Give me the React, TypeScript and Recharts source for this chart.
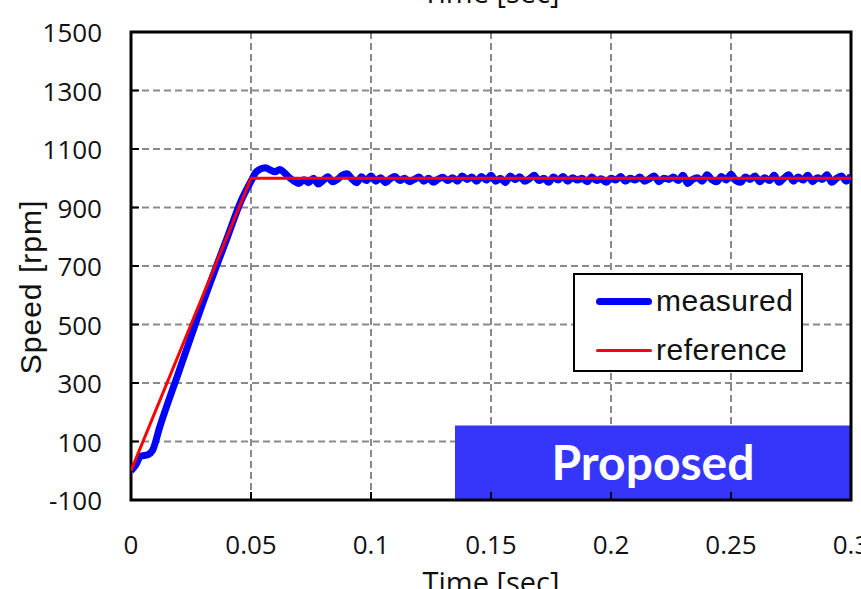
import React from 'react';
import {
  LineChart, Line, XAxis, YAxis, CartesianGrid, ReferenceArea, Label, Legend,
} from 'recharts';

// tick values and labels
const xTicks = [0, 0.05, 0.1, 0.15, 0.2, 0.25, 0.3];
const xTickLabels = ['0', '0.05', '0.1', '0.15', '0.2', '0.25', '0.3'];
const yTicks = [-100, 100, 300, 500, 700, 900, 1100, 1300, 1500];

// reference speed command [time, rpm]
const reference: [number, number][] = [
  [0, 0], [0.05, 1000], [0.3, 1000],
];

// measured speed [time, rpm]
const measured: [number, number][] = [
  [0, 0], [0.002, 20], [0.004, 50], [0.007, 55], [0.009, 70], [0.012, 150],
  [0.02, 340], [0.03, 575], [0.04, 795], [0.046, 925], [0.05, 990],
  [0.052, 1020], [0.054, 1032], [0.056, 1036], [0.058, 1028], [0.06, 1022],
  [0.062, 1030], [0.064, 1018], [0.066, 1002],
  [0.068, 990], [0.07, 982], [0.072, 995], [0.074, 985], [0.076, 1000], [0.078, 980],
  [0.08, 992], [0.082, 1005], [0.084, 988], [0.086, 996], [0.088, 1010], [0.09, 1015],
  [0.092, 998], [0.094, 985], [0.096, 1005], [0.098, 992], [0.1, 1008], [0.102, 990],
  [0.104, 1002], [0.106, 985], [0.108, 998], [0.11, 1006], [0.112, 992], [0.114, 1000],
  [0.116, 988], [0.118, 996], [0.12, 1004], [0.122, 990], [0.124, 1000], [0.126, 986],
  [0.128, 997], [0.13, 1003], [0.132, 992], [0.134, 1002], [0.136, 990], [0.138, 1008],
  [0.14, 996], [0.142, 1004], [0.144, 990], [0.146, 1006], [0.148, 994], [0.15, 1010],
  [0.152, 990], [0.154, 1000], [0.156, 985], [0.158, 1008], [0.16, 995], [0.162, 1005],
  [0.164, 990], [0.166, 998], [0.168, 1010], [0.17, 992], [0.172, 1000], [0.174, 986],
  [0.176, 1004], [0.178, 994], [0.18, 1006], [0.182, 990], [0.184, 1002], [0.186, 994],
  [0.188, 1000], [0.19, 988], [0.192, 1004], [0.194, 992], [0.196, 998], [0.198, 986],
  [0.2, 1000], [0.202, 994], [0.204, 1006], [0.206, 990], [0.208, 1000], [0.21, 994],
  [0.212, 1004], [0.214, 990], [0.216, 998], [0.218, 1008], [0.22, 988], [0.222, 1000],
  [0.224, 996], [0.226, 1004], [0.228, 992], [0.23, 1010], [0.232, 982], [0.234, 996],
  [0.236, 1002], [0.238, 990], [0.24, 1012], [0.242, 995], [0.244, 988], [0.246, 1006],
  [0.248, 994], [0.25, 1014], [0.252, 992], [0.254, 986], [0.256, 1004], [0.258, 996],
  [0.26, 1008], [0.262, 988], [0.264, 1002], [0.266, 992], [0.268, 1010], [0.27, 986],
  [0.272, 1000], [0.274, 1012], [0.276, 990], [0.278, 1004], [0.28, 994], [0.282, 1010],
  [0.284, 988], [0.286, 1002], [0.288, 996], [0.29, 1012], [0.292, 986], [0.294, 1000],
  [0.296, 1008], [0.298, 990], [0.3, 1010],
];

const refData = reference.map(([t, v]) => ({ t, v }));
const measData = measured.map(([t, v]) => ({ t, v }));

const TICK_FONT = '"Open Sans", sans-serif';
const TEXT_FONT = '"Liberation Sans", Arial, sans-serif';
const INK = '#111';

function BottomTick(props: any) {
  const { x, y, payload } = props;
  const i = xTicks.indexOf(payload.value);
  return (
    <g>
      <line x1={x} x2={x} y1={y} y2={y - 8} stroke="#000" strokeWidth={2} />
      <text x={x} y={y + 54} textAnchor="middle" fontSize={26} fontFamily={TICK_FONT} fill={INK}>
        {i >= 0 ? xTickLabels[i] : payload.value}
      </text>
    </g>
  );
}

function TopTick(props: any) {
  const { x, y } = props;
  return <line x1={x} x2={x} y1={y} y2={y + 8} stroke="#000" strokeWidth={2} />;
}

function LeftTick(props: any) {
  const { x, y, payload } = props;
  return (
    <g>
      <line x1={x} x2={x + 8} y1={y} y2={y} stroke="#000" strokeWidth={2} />
      <text x={102} y={y + 10} textAnchor="end" fontSize={26} fontFamily={TICK_FONT} fill={INK}>
        {payload.value}
      </text>
    </g>
  );
}

function LegendBox() {
  const row = (top: number, color: string, w: number, label: string) => (
    <div style={{ position: 'absolute', left: 0, top, width: '100%', height: 40 }}>
      <div style={{
        position: 'absolute', left: 21, top: 20 - w / 2, width: 56, height: w,
        background: color, borderRadius: w / 2,
      }} />
      <div style={{
        position: 'absolute', left: 81, top: 0, lineHeight: '40px', fontSize: 30,
        fontFamily: TEXT_FONT, letterSpacing: 0.5, color: INK, whiteSpace: 'nowrap',
      }}>{label}</div>
    </div>
  );
  return (
    <div style={{
      position: 'relative', width: 230, height: 99, boxSizing: 'border-box',
      border: '2px solid #000', background: '#fff',
    }}>
      {row(6, '#0000ff', 7, 'measured')}
      {row(55, '#ff0000', 3, 'reference')}
    </div>
  );
}

export default function App() {
  return (
    <div style={{ position: 'absolute', left: 0, top: 0, width: 861, height: 589, background: '#fff', overflow: 'hidden' }}>
      <LineChart width={861} height={589} margin={{ top: 32, right: 10, left: 0, bottom: 0 }}>
        <CartesianGrid stroke="#8a8a8a" strokeWidth={2} strokeDasharray="7 4" />
        <XAxis
          dataKey="t" type="number" domain={[0, 0.3]} ticks={xTicks}
          height={89} tickSize={0} tickMargin={0} axisLine={false} tickLine={false}
          tick={<BottomTick />} allowDataOverflow
        >
          <Label
            content={() => (
              <g>
                <text x={491} y={593} textAnchor="middle" fontSize={29} fontFamily={TICK_FONT} fill={INK}>
                  Time [sec]
                </text>
                <text x={491} y={3} textAnchor="middle" fontSize={29} fontFamily={TICK_FONT} fill={INK}>
                  Time [sec]
                </text>
              </g>
            )}
          />
        </XAxis>
        <XAxis
          xAxisId="top" orientation="top" dataKey="t" type="number" domain={[0, 0.3]} ticks={xTicks}
          height={0} tickSize={0} tickMargin={0} axisLine={false} tickLine={false}
          tick={<TopTick />}
        />
        <YAxis
          type="number" domain={[-100, 1500]} ticks={yTicks} width={131}
          tickSize={0} tickMargin={0} axisLine={false} tickLine={false}
          tick={<LeftTick />} allowDataOverflow
        >
          <Label
            content={() => (
              <text
                x={30} y={287} transform="rotate(-90 30 287)" textAnchor="middle"
                dominantBaseline="central" fontSize={30} fontFamily={TEXT_FONT}
                letterSpacing={1} fill={INK}
              >
                Speed [rpm]
              </text>
            )}
          />
        </YAxis>
        <ReferenceArea x1={0.135} x2={0.3} y1={-100} y2={155} fill="#3636fa" fillOpacity={1} stroke="none">
          <Label
            value="Proposed" position="center" fill="#fff" fontSize={48}
            fontWeight={700} fontFamily="Lato, sans-serif"
          />
        </ReferenceArea>
        <Line
          data={measData} dataKey="v" name="measured" type="monotone"
          stroke="#0000ff" strokeWidth={7} dot={false} isAnimationActive={false}
        />
        <Line
          data={refData} dataKey="v" name="reference" type="linear"
          stroke="#ff0000" strokeWidth={3} dot={false} isAnimationActive={false}
        />
        <ReferenceArea x1={0} x2={0.3} y1={-100} y2={1500} fill="none" stroke="#000" strokeWidth={3} />
        <Legend
          layout="vertical" align="center" verticalAlign="middle"
          content={() => <LegendBox />}
          wrapperStyle={{ left: 573, top: 273, width: 230, height: 99 }}
        />
      </LineChart>
    </div>
  );
}
